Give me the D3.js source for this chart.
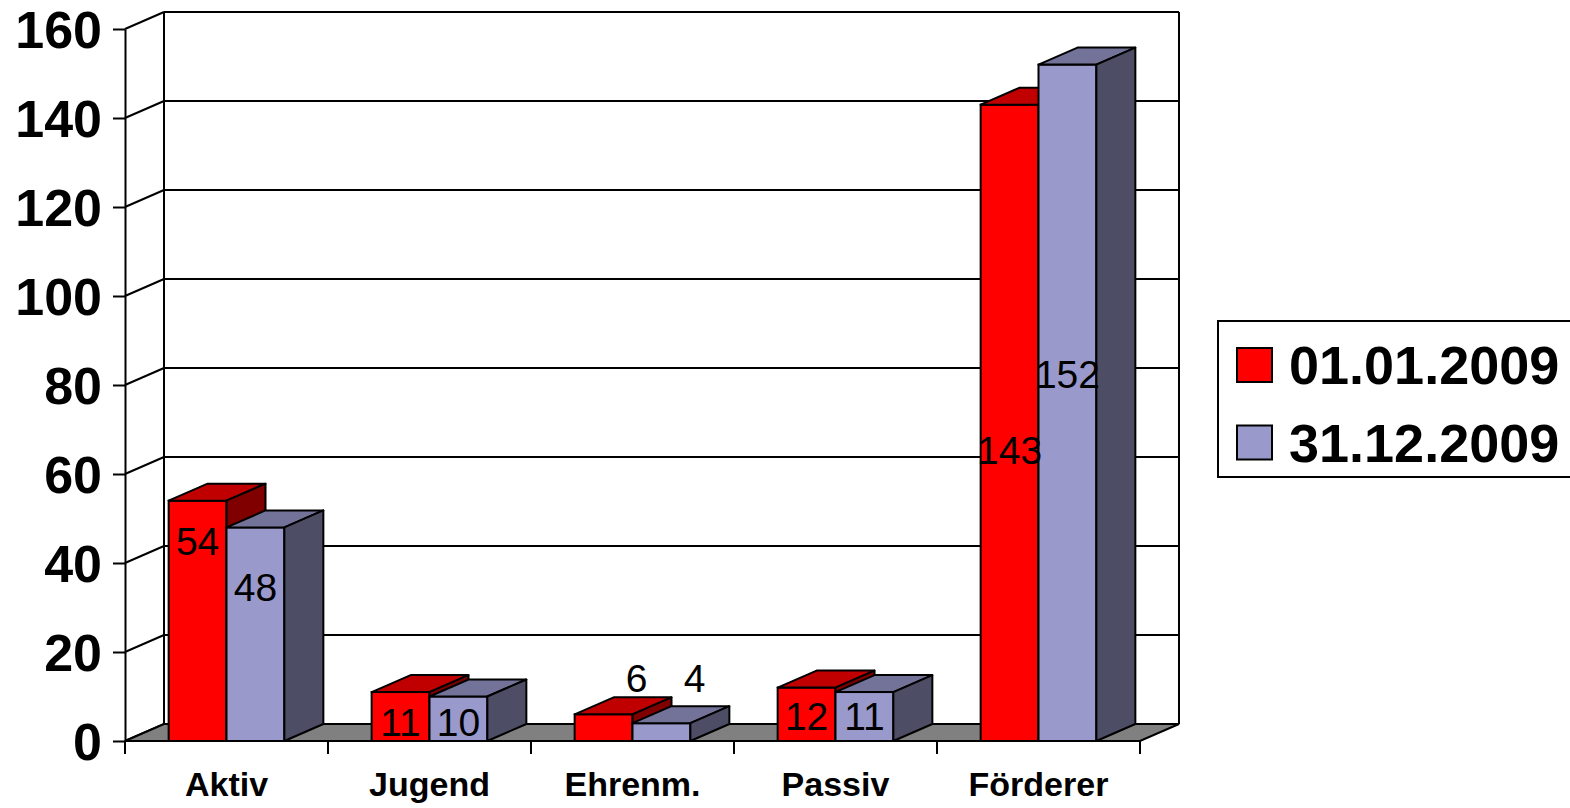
<!DOCTYPE html>
<html>
<head>
<meta charset="utf-8">
<script src="https://cdn.jsdelivr.net/npm/d3@7"></script>
<style>
  body { margin: 0; background: #fff; }
  svg { display: block; font-family: "Liberation Sans", Arial, sans-serif; }
</style>
</head>
<body>
<div id="chart"></div>
<script>
// data
const categories = ['Aktiv', 'Jugend', 'Ehrenm.', 'Passiv', 'Förderer'];
const seriesNames = ['01.01.2009', '31.12.2009'];
const start2009 = [54, 11, 6, 12, 143];
const end2009 = [48, 10, 4, 11, 152];
const yTicks = [0, 20, 40, 60, 80, 100, 120, 140, 160];
// where Excel put the value labels (axis units, depth fraction)
const labelAtStart = [45, 4.3, 10.9, 5.6, 65.5];
const labelAtEnd = [34.6, 4.3, 10.9, 5.6, 82.4];
const labelDepth = [0, 0, 0.85, 0, 0];

const colors = {
    front: ['#FF0000', '#9999CC'],
    top: ['#C00000', '#737399'],
    side: ['#800000', '#4D4D66']
};

const width = 1570, height = 808;
const depth = {dx: 39, dy: -17};

const svg = d3.select('#chart')
    .append('svg')
    .attr('width', width)
    .attr('height', height);

const y = d3.scaleLinear()
    .domain([0, 160])
    .range([741, 29]);

const x = d3.scaleBand()
    .domain(categories)
    .range([125, 1140])
    .paddingInner(0.43)
    .paddingOuter(0.215);

const xs = d3.scaleBand()
    .domain(seriesNames)
    .range([0, x.bandwidth()]);

const x0 = x.range()[0], x1 = x.range()[1];

// back wall gridlines
svg.append('g')
    .selectAll('line')
    .data(yTicks)
    .enter().append('line')
    .attr('x1', x0 + depth.dx)
    .attr('x2', x1 + depth.dx)
    .attr('y1', d => y(d) + depth.dy)
    .attr('y2', d => y(d) + depth.dy)
    .attr('stroke', '#000')
    .attr('stroke-width', 2);

// side wall gridlines
svg.append('g')
    .selectAll('line')
    .data(yTicks)
    .enter().append('line')
    .attr('x1', x0)
    .attr('x2', x0 + depth.dx)
    .attr('y1', d => y(d))
    .attr('y2', d => y(d) + depth.dy)
    .attr('stroke', '#000')
    .attr('stroke-width', 2);

// wall edges
[x0 + depth.dx, x1 + depth.dx].forEach(xx => {
    svg.append('line')
        .attr('x1', xx).attr('x2', xx)
        .attr('y1', y(0) + depth.dy).attr('y2', y(160) + depth.dy)
        .attr('stroke', '#000')
        .attr('stroke-width', 2);
});

// floor
svg.append('polygon')
    .attr('points', [
        [x0, y(0)], [x1, y(0)],
        [x1 + depth.dx, y(0) + depth.dy], [x0 + depth.dx, y(0) + depth.dy]
    ].map(p => p.join(',')).join(' '))
    .attr('fill', '#808080')
    .attr('stroke', '#000')
    .attr('stroke-width', 2);

// front y axis
const yAxis = svg.append('g')
    .attr('transform', 'translate(' + x0 + ',0)')
    .call(d3.axisLeft(y).tickValues(yTicks).tickSize(12).tickPadding(11).tickSizeOuter(0));
yAxis.select('.domain').attr('stroke-width', 2);
yAxis.selectAll('.tick line').attr('stroke-width', 2);
yAxis.selectAll('text')
    .attr('font-size', 52)
    .attr('font-weight', 'bold')
    .attr('font-family', '"Liberation Sans", Arial, sans-serif')
    .attr('fill', '#000')
    .attr('dy', '0.36em');

// x axis ticks at category boundaries
const bounds = d3.range(categories.length + 1).map(i => x0 + i * x.step());
svg.append('g')
    .selectAll('line')
    .data(bounds)
    .enter().append('line')
    .attr('x1', d => d).attr('x2', d => d)
    .attr('y1', y(0)).attr('y2', y(0) + 13)
    .attr('stroke', '#000')
    .attr('stroke-width', 2);

svg.append('g')
    .selectAll('text')
    .data(categories)
    .enter().append('text')
    .attr('x', d => x(d) + x.bandwidth() / 2)
    .attr('y', 796)
    .attr('text-anchor', 'middle')
    .attr('font-size', 34)
    .attr('font-weight', 'bold')
    .text(d => d);

// bars, left to right so nearer faces cover hidden ones
const bars = [];
categories.forEach((c, i) => {
    [start2009, end2009].forEach((vals, s) => {
        bars.push({cat: c, s: s, v: vals[i]});
    });
});

const pts = arr => arr.map(p => p.join(',')).join(' ');

const barG = svg.append('g')
    .selectAll('g')
    .data(bars)
    .enter().append('g');

barG.each(function(d) {
    const g = d3.select(this);
    const left = x(d.cat) + xs(seriesNames[d.s]);
    const right = left + xs.bandwidth();
    const top = y(d.v), base = y(0);
    g.append('rect')
        .attr('x', left).attr('y', top)
        .attr('width', right - left).attr('height', base - top)
        .attr('fill', colors.front[d.s])
        .attr('stroke', '#000').attr('stroke-width', 2);
    g.append('polygon')
        .attr('points', pts([[left, top], [right, top], [right + depth.dx, top + depth.dy], [left + depth.dx, top + depth.dy]]))
        .attr('fill', colors.top[d.s])
        .attr('stroke', '#000').attr('stroke-width', 2).attr('stroke-linejoin', 'round');
    g.append('polygon')
        .attr('points', pts([[right, top], [right + depth.dx, top + depth.dy], [right + depth.dx, base + depth.dy], [right, base]]))
        .attr('fill', colors.side[d.s])
        .attr('stroke', '#000').attr('stroke-width', 2).attr('stroke-linejoin', 'round');
});

// value labels
const labels = [];
categories.forEach((c, i) => {
    labels.push({cat: c, s: 0, v: start2009[i], at: labelAtStart[i], dep: labelDepth[i]});
    labels.push({cat: c, s: 1, v: end2009[i], at: labelAtEnd[i], dep: labelDepth[i]});
});

svg.append('g')
    .selectAll('text')
    .data(labels)
    .enter().append('text')
    .attr('x', d => x(d.cat) + xs(seriesNames[d.s]) + xs.bandwidth() / 2 + d.dep * depth.dx)
    .attr('y', d => y(d.at) + d.dep * depth.dy)
    .attr('dy', '0.36em')
    .attr('text-anchor', 'middle')
    .attr('font-size', 39)
    .attr('fill', '#000')
    .text(d => d.v);

// legend
const legend = svg.append('g');
legend.append('rect')
    .attr('x', 1218).attr('y', 321)
    .attr('width', 400).attr('height', 156)
    .attr('fill', '#fff')
    .attr('stroke', '#000').attr('stroke-width', 2);

const item = legend.selectAll('g.item')
    .data(seriesNames)
    .enter().append('g')
    .attr('class', 'item')
    .attr('transform', (d, i) => 'translate(1237,' + (348 + i * 77.5) + ')');

item.append('rect')
    .attr('width', 35).attr('height', 34)
    .attr('fill', (d, i) => colors.front[i])
    .attr('stroke', '#000').attr('stroke-width', 2);

item.append('text')
    .attr('x', 52)
    .attr('y', 36)
    .attr('font-size', 54)
    .attr('font-weight', 'bold')
    .text(d => d);
</script>
</body>
</html>
